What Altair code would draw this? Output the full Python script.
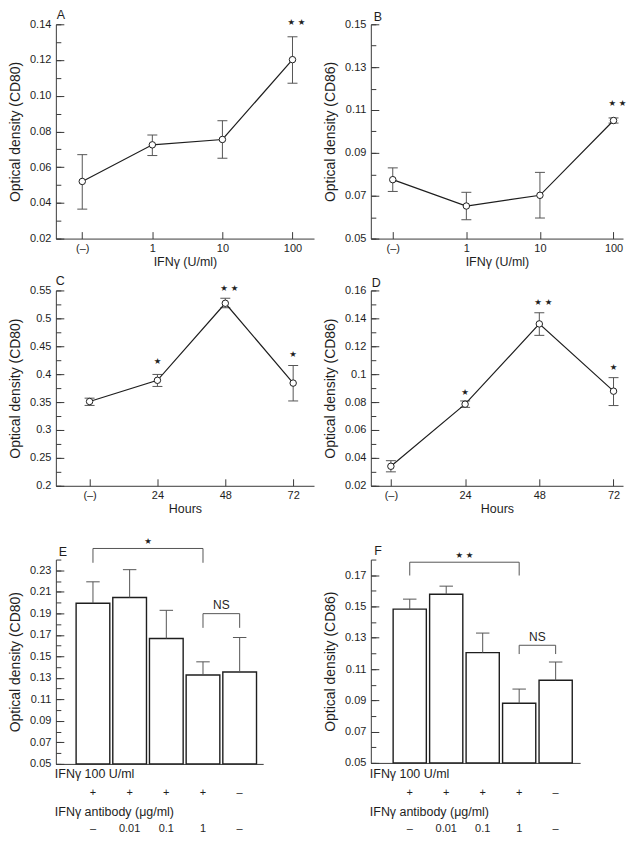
import altair as alt
import pandas as pd

# ---------------- data ----------------
dose_labels = ["(–)", "1", "10", "100"]
hour_labels = ["(–)", "24", "48", "72"]

# A: CD80 vs IFN-gamma dose
a_mean = [0.052, 0.0725, 0.0755, 0.1202]
a_low = [0.0365, 0.0665, 0.065, 0.107]
a_high = [0.067, 0.078, 0.086, 0.133]
# B: CD86 vs IFN-gamma dose
b_mean = [0.0775, 0.0652, 0.0702, 0.1051]
b_low = [0.072, 0.0588, 0.0596, 0.1039]
b_high = [0.083, 0.0716, 0.0809, 0.1063]
# C: CD80 vs time
c_mean = [0.351, 0.389, 0.527, 0.384]
c_low = [0.344, 0.378, 0.519, 0.352]
c_high = [0.357, 0.3995, 0.536, 0.4155]
# D: CD86 vs time
d_mean = [0.034, 0.0785, 0.136, 0.0878]
d_low = [0.030, 0.0762, 0.1278, 0.0775]
d_high = [0.038, 0.0808, 0.144, 0.0975]

# significance marks: category, height, text
a_sig_cat, a_sig_y, a_sig_txt = ["100"], [0.1415], ["★ ★"]
b_sig_cat, b_sig_y, b_sig_txt = ["100"], [0.1134], ["★ ★"]
c_sig_cat, c_sig_y, c_sig_txt = ["24", "48", "72"], [0.424, 0.555, 0.436], ["★", "★ ★", "★"]
d_sig_cat, d_sig_y, d_sig_txt = ["24", "48", "72"], [0.0869, 0.1517, 0.1048], ["★", "★ ★", "★"]

# E / F: antibody blocking
ifn_row = ["+", "+", "+", "+", "–"]
antibody_row = ["–", "0.01", "0.1", "1", "–"]
e_mean = [0.1994, 0.2047, 0.1666, 0.1327, 0.1354]
e_high = [0.2193, 0.2306, 0.1928, 0.1449, 0.1675]
f_mean = [0.1483, 0.1578, 0.1205, 0.0881, 0.1028]
f_high = [0.1547, 0.163, 0.133, 0.0972, 0.1145]

# brackets: from bar, to bar, top level, foot level, label, label level
e_br_from, e_br_to = [0, 3], [3, 4]
e_br_top, e_br_foot = [0.2503, 0.1897], [0.237, 0.1765]
e_br_txt, e_br_txt_y = ["★", "NS"], [0.2569, 0.198]
f_br_from, f_br_to = [0, 3], [3, 4]
f_br_top, f_br_foot = [0.1783, 0.1252], [0.1698, 0.1196]
f_br_txt, f_br_txt_y = ["★ ★", "NS"], [0.1829, 0.1308]

# axis ticks
a_ticks = [0.02, 0.04, 0.06, 0.08, 0.10, 0.12, 0.14]
a_minor = [0.02, 0.03, 0.04, 0.05, 0.06, 0.07, 0.08, 0.09, 0.10, 0.11, 0.12, 0.13, 0.14]
b_ticks = [0.05, 0.07, 0.09, 0.11, 0.13, 0.15]
b_minor = [0.05, 0.06, 0.07, 0.08, 0.09, 0.10, 0.11, 0.12, 0.13, 0.14, 0.15]
c_ticks = [0.2, 0.25, 0.3, 0.35, 0.4, 0.45, 0.5, 0.55]
c_minor = [0.2, 0.225, 0.25, 0.275, 0.3, 0.325, 0.35, 0.375, 0.4, 0.425, 0.45,
           0.475, 0.5, 0.525, 0.55]
d_ticks = [0.02, 0.04, 0.06, 0.08, 0.1, 0.12, 0.14, 0.16]
d_minor = [0.02, 0.03, 0.04, 0.05, 0.06, 0.07, 0.08, 0.09, 0.1, 0.11, 0.12, 0.13,
           0.14, 0.15, 0.16]
e_ticks = [0.05, 0.07, 0.09, 0.11, 0.13, 0.15, 0.17, 0.19, 0.21, 0.23]
e_minor = [0.05, 0.06, 0.07, 0.08, 0.09, 0.10, 0.11, 0.12, 0.13, 0.14, 0.15, 0.16,
           0.17, 0.18, 0.19, 0.20, 0.21, 0.22, 0.23, 0.24]
f_ticks = [0.05, 0.07, 0.09, 0.11, 0.13, 0.15, 0.17]
f_minor = [0.05, 0.06, 0.07, 0.08, 0.09, 0.10, 0.11, 0.12, 0.13, 0.14, 0.15, 0.16,
           0.17, 0.18]

# ---------------- styling ----------------
FONT = "Liberation Sans"
STAR_FONT = "DejaVu Sans"
INK = "#1e1e1e"
AX = "#3a3a3a"
ERR = "#555555"


def neg(v):
    return alt.ExprRef(expr=str(-v))


def y_axes(title, ticks, minor, fmt):
    major = alt.Axis(title=title, values=ticks, format=fmt, orient="left",
                     tickSize=neg(8), labelPadding=13, titlePadding=7,
                     titleFontSize=14, grid=False)
    minor_ax = alt.Axis(title=None, values=minor, orient="left", labels=False,
                        domain=False, tickSize=neg(5), grid=False)
    return major, minor_ax


def letter_layer(letter, dx, dy):
    return alt.Chart(pd.DataFrame({"t": [letter]})).mark_text(
        align="left", baseline="alphabetic", fontSize=12.5, font=FONT, color=INK
    ).encode(x=alt.value(dx), y=alt.value(dy), text="t:N")


def line_panel(cats, mean, low, high, sig_cat, sig_y, sig_txt, letter, ldx, ldy,
               ydom, ticks, minor, fmt, ytitle, xtitle, w, h, pad, align):
    df = pd.DataFrame({"cat": cats, "mean": mean, "low": low, "high": high})
    sig = pd.DataFrame({"cat": sig_cat, "y": sig_y, "t": sig_txt})
    x = alt.X("cat:N", sort=cats,
              scale=alt.Scale(type="point", padding=pad, align=align),
              axis=alt.Axis(title=xtitle, labelAngle=0, tickSize=neg(7),
                            labelPadding=11, titlePadding=2, grid=False))
    ys = alt.Scale(domain=ydom, nice=False, zero=False)
    major, minor_ax = y_axes(ytitle, ticks, minor, fmt)
    base = alt.Chart(df)
    err = base.mark_rule(color=ERR, strokeWidth=1).encode(
        x=x, y=alt.Y("low:Q", scale=ys, axis=minor_ax), y2="high:Q")
    cap_hi = base.mark_tick(color=ERR, thickness=1, size=10, opacity=1,
                            orient="horizontal").encode(
        x=x, y=alt.Y("high:Q", scale=ys, axis=None))
    cap_lo = base.mark_tick(color=ERR, thickness=1, size=10, opacity=1,
                            orient="horizontal").encode(
        x=x, y=alt.Y("low:Q", scale=ys, axis=None))
    line = base.mark_line(color=INK, strokeWidth=1.2).encode(
        x=x, y=alt.Y("mean:Q", scale=ys, axis=major))
    pts = base.mark_circle(size=42, fill="white", stroke=INK, strokeWidth=1,
                           opacity=1).encode(
        x=x, y=alt.Y("mean:Q", scale=ys, axis=None))
    sig_base = alt.Chart(sig)
    single = sig_base.transform_filter(alt.datum.t == "★").mark_text(
        font=STAR_FONT, fontSize=8.5, baseline="middle", color=INK).encode(
        x=x, y=alt.Y("y:Q", scale=ys, axis=None), text="t:N")
    double = sig_base.transform_filter(alt.datum.t != "★").mark_text(
        font=STAR_FONT, fontSize=8.5, baseline="middle", color=INK, dx=4).encode(
        x=x, y=alt.Y("y:Q", scale=ys, axis=None), text="t:N")
    return alt.layer(err, cap_hi, cap_lo, line, pts, single, double,
                     letter_layer(letter, ldx, ldy)).resolve_axis(
        y="independent").properties(width=w, height=h)


def bar_panel(mean, high, br_from, br_to, br_top, br_foot, br_txt, br_txt_y,
              letter, ldx, ldy, ydom, ticks, minor, ytitle, w, h, xdom, bar_w, offs):
    df = pd.DataFrame({"i": list(range(len(mean))), "mean": mean, "high": high,
                       "ifn": ifn_row, "ab": antibody_row})
    br = pd.DataFrame({"x1": br_from, "x2": br_to, "top": br_top, "foot": br_foot,
                       "t": br_txt, "ty": br_txt_y})
    xs = alt.Scale(domain=xdom, nice=False, zero=False)
    xax = alt.Axis(title=None, labels=False, ticks=False, grid=False)
    x = alt.X("i:Q", scale=xs, axis=xax)
    ys = alt.Scale(domain=ydom, nice=False, zero=False)
    major, minor_ax = y_axes(ytitle, ticks, minor, ".2f")
    base = alt.Chart(df)
    bars = base.mark_bar(size=bar_w, fill="white", stroke=INK, strokeWidth=1.4).encode(
        x=x, y=alt.Y("mean:Q", scale=ys, axis=major), y2=alt.datum(ydom[0]))
    err = base.mark_rule(color=ERR, strokeWidth=1).encode(
        x=x, y=alt.Y("mean:Q", scale=ys, axis=minor_ax), y2="high:Q")
    cap = base.mark_tick(color=ERR, thickness=1, size=13.5, opacity=1,
                         orient="horizontal").encode(
        x=x, y=alt.Y("high:Q", scale=ys, axis=None))
    bb = alt.Chart(br)
    hrule = bb.mark_rule(color=ERR, strokeWidth=1).encode(
        x=alt.X("x1:Q", scale=xs, axis=xax), x2="x2:Q",
        y=alt.Y("top:Q", scale=ys, axis=None))
    lrule = bb.mark_rule(color=ERR, strokeWidth=1).encode(
        x=alt.X("x1:Q", scale=xs, axis=xax),
        y=alt.Y("top:Q", scale=ys, axis=None), y2="foot:Q")
    rrule = bb.mark_rule(color=ERR, strokeWidth=1).encode(
        x=alt.X("x2:Q", scale=xs, axis=xax),
        y=alt.Y("top:Q", scale=ys, axis=None), y2="foot:Q")
    lab = bb.transform_calculate(mid="(datum.x1 + datum.x2) / 2")
    ns = lab.transform_filter(alt.datum.t == "NS").mark_text(
        font=FONT, fontSize=12, baseline="middle", color=INK).encode(
        x=alt.X("mid:Q", scale=xs, axis=xax),
        y=alt.Y("ty:Q", scale=ys, axis=None), text="t:N")
    st = lab.transform_filter(alt.datum.t != "NS").mark_text(
        font=STAR_FONT, fontSize=8.5, baseline="middle", color=INK).encode(
        x=alt.X("mid:Q", scale=xs, axis=xax),
        y=alt.Y("ty:Q", scale=ys, axis=None), text="t:N")
    row1 = alt.Chart(pd.DataFrame({"t": ["IFNγ 100 U/ml"]})).mark_text(
        align="left", baseline="middle", fontSize=12.5, font=FONT, color=INK).encode(
        x=alt.value(-1), y=alt.value(h + offs[0]), text="t:N")
    row2 = base.mark_text(baseline="middle", fontSize=11, font=FONT, color=INK).encode(
        x=x, y=alt.value(h + offs[1]), text="ifn:N")
    row3 = alt.Chart(pd.DataFrame({"t": ["IFNγ antibody (μg/ml)"]})).mark_text(
        align="left", baseline="middle", fontSize=12.5, font=FONT, color=INK).encode(
        x=alt.value(-1), y=alt.value(h + offs[2]), text="t:N")
    row4 = base.mark_text(baseline="middle", fontSize=11, font=FONT, color=INK).encode(
        x=x, y=alt.value(h + offs[3]), text="ab:N")
    return alt.layer(bars, err, cap, hrule, lrule, rrule, ns, st, row1, row2, row3,
                     row4, letter_layer(letter, ldx, ldy)).resolve_axis(
        y="independent").properties(width=w, height=h)


def spacer(hh):
    return alt.Chart(pd.DataFrame({"v": [0]})).mark_point(opacity=0).encode(
        x=alt.value(0), y=alt.value(0)).properties(width=1, height=hh)


pA = line_panel(dose_labels, a_mean, a_low, a_high, a_sig_cat, a_sig_y, a_sig_txt,
                "A", 1, -5, [0.02, 0.14], a_ticks, a_minor, ".2f",
                "Optical density (CD80)", "IFNγ (U/ml)", 259, 215, 0.342, 0.551)
pB = line_panel(dose_labels, b_mean, b_low, b_high, b_sig_cat, b_sig_y, b_sig_txt,
                "B", 3, -3, [0.05, 0.15], b_ticks, b_minor, ".2f",
                "Optical density (CD86)", "IFNγ (U/ml)", 253, 215, 0.2135, 0.698)
pC = line_panel(hour_labels, c_mean, c_low, c_high, c_sig_cat, c_sig_y, c_sig_txt,
                "C", 0, -5, [0.2, 0.55], c_ticks, c_minor, "~g",
                "Optical density (CD80)", "Hours", 259, 196, 0.402, 0.618)
pD = line_panel(hour_labels, d_mean, d_low, d_high, d_sig_cat, d_sig_y, d_sig_txt,
                "D", 1, -3, [0.02, 0.16], d_ticks, d_minor, "~g",
                "Optical density (CD86)", "Hours", 253, 196, 0.199, 0.679)
pE = bar_panel(e_mean, e_high, e_br_from, e_br_to, e_br_top, e_br_foot, e_br_txt,
               e_br_txt_y, "E", 3, -4, [0.05, 0.24], e_ticks, e_minor,
               "Optical density (CD80)", 208, 205, [-0.876, 4.505], 33.8,
               [10.3, 29.6, 47.9, 65.2])
pF = bar_panel(f_mean, f_high, f_br_from, f_br_to, f_br_top, f_br_foot, f_br_txt,
               f_br_txt_y, "F", 3.5, -5, [0.05, 0.18], f_ticks, f_minor,
               "Optical density (CD86)", 210, 204, [-0.93, 4.535], 33.3,
               [11.3, 30.6, 48.9, 66.2])

chart = alt.concat(
    pA, pB, spacer(44), spacer(44), pC, pD, spacer(66), spacer(66), pE, pF,
    columns=2, spacing={"row": 4, "column": 57}, bounds="flush", align="each",
).properties(padding=0).configure_view(stroke=None).configure_axis(
    labelFont=FONT, titleFont=FONT, labelFontSize=11, titleFontSize=12.5,
    titleFontWeight="normal", labelColor=INK, titleColor=INK, domainColor=AX,
    tickColor=AX, domainWidth=1, tickWidth=1,
).configure_text(font=FONT)

chart.save("out.html", embed_options={"renderer": "svg", "actions": False})
